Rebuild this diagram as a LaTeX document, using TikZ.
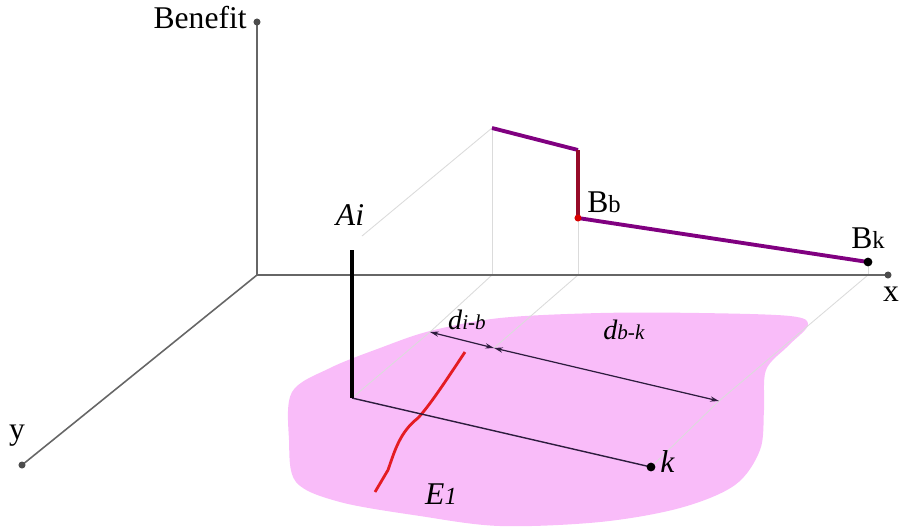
\documentclass[tikz,border=0pt]{standalone}
\usepackage{fontspec}
\setmainfont{Liberation Serif}
\usetikzlibrary{arrows.meta}

\definecolor{blobpink}{RGB}{249,188,249}
\definecolor{benpurple}{RGB}{128,0,128}
\definecolor{stepred}{RGB}{150,10,40}
\definecolor{edgered}{RGB}{228,28,35}
\definecolor{dimnavy}{RGB}{45,28,62}

\begin{document}
\begin{tikzpicture}[
  x=0.02cm, y=-0.02cm,
  axis/.style={draw=black!60, line width=0.9pt},
  proj/.style={draw=black!14, line width=0.5pt},
  dimarr/.style={{Stealth[length=5pt,width=3pt]}-{Stealth[length=5pt,width=3pt]},
                 draw=dimnavy, line width=0.7pt},
  benline/.style={draw=benpurple, line width=2.2pt},
  lbl/.style={font=\fontsize{18}{20}\selectfont, inner sep=0pt},
  sublbl/.style={font=\fontsize{16}{18}\selectfont, inner sep=0pt},
  dot/.style={circle, fill, inner sep=0pt, minimum size=5pt}
]
  \useasboundingbox (0,0) rectangle (899,529);

  % points
  \coordinate (orig) at (257,275);
  \coordinate (bentip) at (257,22);
  \coordinate (xtip) at (888,275);
  \coordinate (ytip) at (22,465);
  \coordinate (aitop) at (352,250);
  \coordinate (ai) at (352,398);
  \coordinate (k) at (651,467);
  \coordinate (dib) at (430,332);
  \coordinate (dmid) at (494,348);
  \coordinate (dbk) at (719,401);
  \coordinate (pa) at (492,128);
  \coordinate (pb) at (578,150);
  \coordinate (bb) at (578,218);
  \coordinate (bk) at (868,262);
  \coordinate (xa) at (492,275);
  \coordinate (xb) at (578,275);
  \coordinate (xk) at (868,275);
  \coordinate (aiproj) at (362,236);

  % area E1
  \fill[blobpink] plot[smooth cycle, tension=0.55] coordinates {
    (292,392) (330,368) (380,348) (430,331) (500,318) (600,313) (700,313)
    (790,316) (808,325) (788,346) (766,370) (764,410) (760,450) (735,485)
    (680,508) (600,522) (500,526) (420,516) (340,502) (296,482) (289,440)};

  % projection lines
  \draw[proj] (pa) -- (aiproj);
  \draw[proj] (pa) -- (xa);
  \draw[proj] (bb) -- (xb);
  \draw[proj] (bk) -- (xk);
  \draw[proj] (xa) -- (dib) -- (ai);
  \draw[proj] (xb) -- (dmid);
  \draw[proj] (xk) -- (dbk) -- (k);

  % axes
  \draw[axis] (bentip) -- (orig) -- (xtip);
  \draw[axis] (orig) -- (ytip);
  \node[dot, minimum size=4pt, fill=black!70] at (bentip) {};
  \node[dot, minimum size=4pt, fill=black!70] at (xtip) {};
  \node[dot, minimum size=4pt, fill=black!70] at (ytip) {};
  \node[lbl, anchor=east] at (247,18) {Benefit};
  \node[lbl] at (891,294) {x};
  \node[lbl] at (17,436) {y};

  % edge of E1
  \draw[edgered, line width=1.6pt] (465,352) .. controls (445,382) and (430,405) .. (418,418)
    .. controls (400,432) and (395,450) .. (388,470) -- (375,492);

  % alternative i
  \draw[dimnavy, line width=0.8pt] (ai) -- (k);
  \node[dot] at (k) {};
  \draw[black, line width=2.8pt] (aitop) -- (ai);
  \node[lbl, anchor=south] at (350,226) {\textit{Ai}};
  \node[lbl, anchor=west] at (660,462) {\textit{k}};
  \node[lbl] at (441,494) {\textit{E}{\fontsize{14}{14}\selectfont\textit{1}}};

  % distances
  \draw[dimarr] (dib) -- (dmid);
  \draw[dimarr] (dmid) -- (dbk);
  \node[sublbl] at (467,320) {\textit{d}{\fontsize{12}{12}\selectfont\textit{i-b}}};
  \node[sublbl] at (624,330) {\textit{d}{\fontsize{12}{12}\selectfont\textit{b-k}}};

  % benefit curve
  \draw[benline] (pa) -- (pb);
  \draw[stepred, line width=2.2pt] (pb) -- (bb);
  \draw[benline] (bb) -- (bk);
  \node[dot, fill=red!85!black, minimum size=4pt] at (bb) {};
  \node[dot] at (bk) {};
  \node[lbl, anchor=west] at (587,202) {B{\fontsize{14}{14}\selectfont b}};
  \node[lbl] at (868,238) {B{\fontsize{14}{14}\selectfont k}};
\end{tikzpicture}
\end{document}
